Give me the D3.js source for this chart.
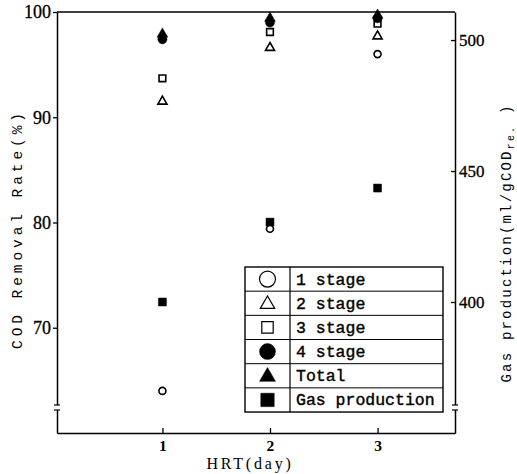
<!DOCTYPE html>
<html><head><meta charset="utf-8">
<script src="https://cdn.jsdelivr.net/npm/d3@7"></script>
<style>body{margin:0;background:#fff}svg{display:block}</style>
</head><body>
<svg id="c" width="517" height="474"></svg>
<script>
const hrt = [1, 2, 3];
const stage1 = [64.0, 79.4, 96.0];
const stage2 = [91.5, 96.6, 97.7];
const stage3 = [93.7, 98.1, 98.9];
const stage4 = [97.4, 99.0, 99.4];
const total = [97.9, 99.4, 99.7];
const gas = [400, 430.5, 443.5];
const xTicks = [1, 2, 3];
const yLeftTicks = [70, 80, 90, 100];
const yRightTicks = [400, 450, 500];
const legendLabels = ["1 stage", "2 stage", "3 stage", "4 stage", "Total", "Gas production"];

const svg = d3.select("#c");
const L = 57, R = 455, T = 12, B = 433;
const x = d3.scaleLinear().domain([0.02, 3.72]).range([L, R]);
const yL = d3.scaleLinear().domain([60, 100]).range([B, T]);
const yR = d3.scaleLinear().domain([350, 510.7]).range([B, T]);

const serif = "'Liberation Serif', 'DejaVu Serif', serif";
const mono = "'Liberation Mono', 'DejaVu Sans Mono', monospace";

// frame top
svg.append("line").attr("x1", L).attr("x2", R).attr("y1", T).attr("y2", T)
  .attr("stroke", "#000").attr("stroke-width", 1.5);

const ax = svg.append("g").attr("transform", `translate(0,${B})`)
  .call(d3.axisBottom(x).tickValues(xTicks).tickFormat(d3.format("d")).tickSize(-5).tickSizeOuter(0).tickPadding(7));
const ayl = svg.append("g").attr("transform", `translate(${L},0)`)
  .call(d3.axisLeft(yL).tickValues(yLeftTicks).tickSize(4).tickSizeOuter(0).tickPadding(2));
const ayr = svg.append("g").attr("transform", `translate(${R},0)`)
  .call(d3.axisRight(yR).tickValues(yRightTicks).tickSize(-4).tickSizeOuter(0).tickPadding(4));
[ax, ayl, ayr].forEach(g => {
  g.selectAll("path.domain").attr("stroke", "#000").attr("stroke-width", 1.5);
  g.selectAll(".tick line").attr("stroke", "#000").attr("stroke-width", 1.3);
  g.selectAll("text").attr("font-family", serif).attr("fill", "#000");
});
ax.selectAll("text").attr("font-size", 15.5).attr("font-weight", "bold");
ayl.selectAll("text").attr("font-size", 18).attr("stroke", "#000").attr("stroke-width", 0.3);
ayr.selectAll("text").attr("font-size", 17).attr("stroke", "#000").attr("stroke-width", 0.3);

// axis breaks
[L, R].forEach(xx => {
  svg.append("rect").attr("x", xx - 2).attr("y", 405).attr("width", 4).attr("height", 5).attr("fill", "#fff");
  [405, 410].forEach(yy => svg.append("line").attr("x1", xx - 3).attr("x2", xx + 3)
    .attr("y1", yy).attr("y2", yy).attr("stroke", "#000").attr("stroke-width", 1.2));
});

// axis titles
svg.append("text").attr("transform", `translate(22,231) rotate(-90)`)
  .attr("text-anchor", "middle").attr("font-family", mono).attr("font-size", 14.5)
  .attr("textLength", 236).attr("lengthAdjust", "spacing")
  .text("COD Removal Rate(%)");
const rt = svg.append("text").attr("transform", `translate(511,243) rotate(-90)`)
  .attr("text-anchor", "middle").attr("font-family", mono).attr("font-size", 14)
  .attr("letter-spacing", 2.2);
rt.append("tspan").text("Gas production(ml/gCOD");
rt.append("tspan").attr("font-size", 10).attr("dy", 3).text("re.");
rt.append("tspan").attr("dy", -3).text(" )");
svg.append("text").attr("x", 250).attr("y", 469).attr("text-anchor", "middle")
  .attr("font-family", serif).attr("font-size", 16).attr("letter-spacing", 2.8)
  .text("HRT(day)");

// markers
const sym = (type, size) => d3.symbol().type(type).size(size)();
function plot(vals, scale, type, size, filled) {
  svg.append("g").selectAll("path").data(vals).join("path")
    .attr("transform", (d, i) => `translate(${x(hrt[i])},${scale(d)})`)
    .attr("d", sym(type, size))
    .attr("fill", filled ? "#000" : "#fff")
    .attr("stroke", "#000").attr("stroke-width", filled ? 0.5 : 1.6);
}
plot(gas, yR, d3.symbolSquare, 64, true);
plot(stage1, yL, d3.symbolCircle, 38, false);
plot(stage2, yL, d3.symbolTriangle, 36, false);
plot(stage3, yL, d3.symbolSquare, 45, false);
plot(stage4, yL, d3.symbolCircle, 64, true);
plot(total, yL, d3.symbolTriangle, 50, true);

// legend
const lg = svg.append("g");
const lx = 245, lw = 198, ly = 267, rh = 24.17, cx = 290;
lg.append("rect").attr("x", lx).attr("y", ly).attr("width", lw).attr("height", rh * 6)
  .attr("fill", "#fff").attr("stroke", "#000").attr("stroke-width", 1.4);
lg.append("line").attr("x1", cx).attr("x2", cx).attr("y1", ly).attr("y2", ly + rh * 6)
  .attr("stroke", "#000").attr("stroke-width", 1.2);
d3.range(1, 6).forEach(i => lg.append("line").attr("x1", lx).attr("x2", lx + lw)
  .attr("y1", ly + rh * i).attr("y2", ly + rh * i).attr("stroke", "#000").attr("stroke-width", 1));
const legSyms = [
  [d3.symbolCircle, 200, false], [d3.symbolTriangle, 90, false], [d3.symbolSquare, 130, false],
  [d3.symbolCircle, 200, true], [d3.symbolTriangle, 110, true], [d3.symbolSquare, 180, true]
];
legendLabels.forEach((lab, i) => {
  const cy = ly + rh * i + rh / 2;
  const s = legSyms[i];
  lg.append("path").attr("transform", `translate(${(lx + cx) / 2},${cy + (s[0] === d3.symbolTriangle ? 1 : 0)})`)
    .attr("d", sym(s[0], s[1])).attr("fill", s[2] ? "#000" : "#fff")
    .attr("stroke", "#000").attr("stroke-width", s[2] ? 0.5 : 1.2);
  lg.append("text").attr("x", 296).attr("y", cy + 5.5).attr("font-family", mono)
    .attr("font-size", 16.5).attr("stroke", "#000").attr("stroke-width", 0.4).text(lab);
});
</script>
</body></html>
